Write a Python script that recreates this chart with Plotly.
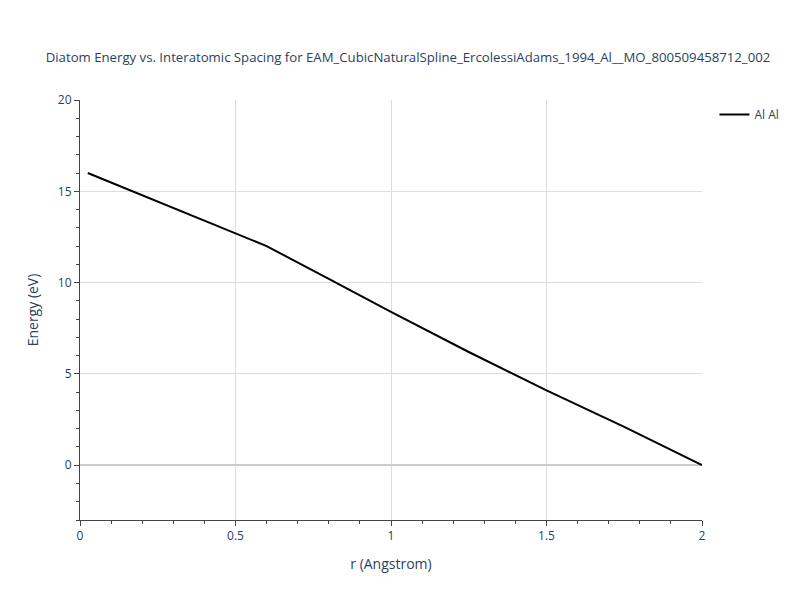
import plotly.graph_objects as go

r = [0.025, 0.2, 0.4, 0.6, 0.8, 1.0, 1.25, 1.5, 1.75, 2.0]
energy = [16.0, 14.78, 13.39, 12.0, 10.2, 8.4, 6.2, 4.1, 2.1, 0.0]

fig = go.Figure(go.Scatter(x=r, y=energy, mode="lines", name="Al Al",
                           line=dict(color="black", width=2)))
axis_common = dict(showline=True, linecolor="#444", linewidth=1, ticks="outside",
                   gridcolor="#ddd", zeroline=True, zerolinecolor="#ccc", zerolinewidth=2,
                   minor=dict(ticks="outside", ticklen=3, showgrid=False))
fig.update_layout(
    width=800, height=600,
    title=dict(text="Diatom Energy vs. Interatomic Spacing for EAM_CubicNaturalSpline_ErcolessiAdams_1994_Al__MO_800509458712_002",
               x=0.5, y=0.925, font=dict(size=13.2)),
    plot_bgcolor="white", paper_bgcolor="white",
    margin=dict(l=72, r=106, t=92, b=88),
    showlegend=True,
    legend=dict(x=1.02, y=1, font=dict(size=12)),
    xaxis=dict(title="r (Angstrom)", range=[0, 2], dtick=0.5, **axis_common),
    yaxis=dict(title="Energy (eV)", range=[-3, 20], dtick=5, **axis_common),
)
fig.write_html("out.html")
